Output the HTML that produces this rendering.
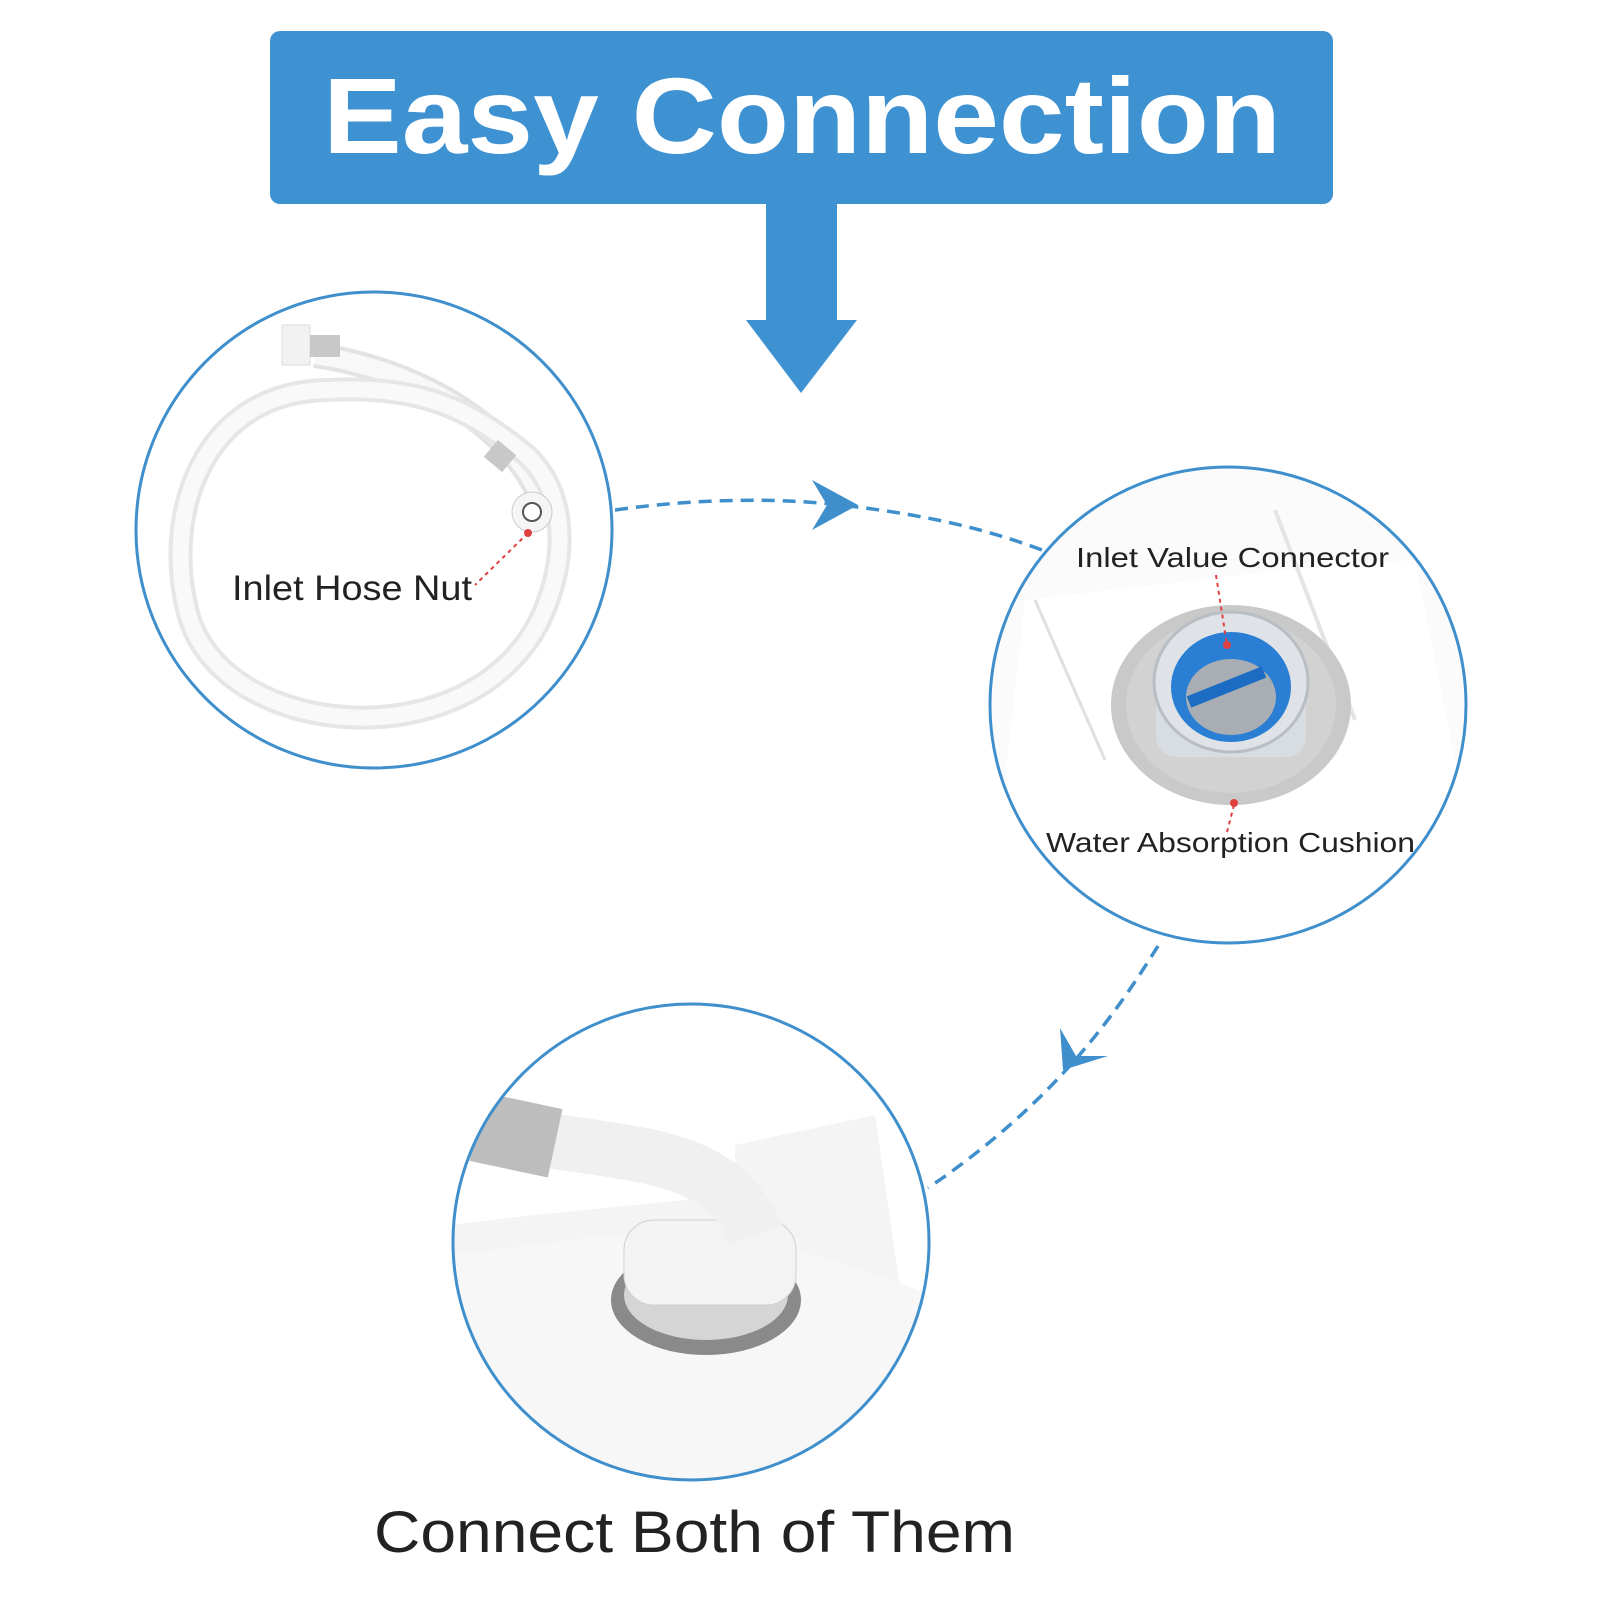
<!DOCTYPE html>
<html><head><meta charset="utf-8"><style>html,body{margin:0;padding:0;background:#fff}svg{display:block}</style></head>
<body>
<svg width="1600" height="1600" viewBox="0 0 1600 1600" xmlns="http://www.w3.org/2000/svg" font-family="Liberation Sans, sans-serif">
<defs>
<clipPath id="c2"><circle cx="1228" cy="705" r="238"/></clipPath>
<clipPath id="c3"><circle cx="691" cy="1242" r="238"/></clipPath>
</defs>
<rect x="270" y="31" width="1063" height="173" rx="10" fill="#3f92d2"/>
<text x="323" y="153" font-size="108" font-weight="bold" fill="#fff" textLength="958" lengthAdjust="spacingAndGlyphs">Easy Connection</text>
<rect x="766" y="200" width="71" height="122" fill="#3f92d2"/>
<polygon points="746,320 857,320 801,393" fill="#3f92d2"/>

<circle cx="374" cy="530" r="238" fill="#fff" stroke="#3f8fcc" stroke-width="3"/>
<path d="M315,355 C420,370 520,430 545,510" stroke="#e3e3e3" stroke-width="26" fill="none"/>
<path d="M315,355 C420,370 520,430 545,510" stroke="#f8f8f8" stroke-width="18" fill="none"/>
<path d="M330,390 C200,390 160,520 190,620 C230,740 470,760 540,620 C575,545 560,480 520,450 C470,410 420,385 330,390" stroke="#e6e6e6" stroke-width="24" fill="none"/>
<path d="M330,390 C200,390 160,520 190,620 C230,740 470,760 540,620 C575,545 560,480 520,450 C470,410 420,385 330,390" stroke="#f9f9f9" stroke-width="16" fill="none"/>
<rect x="282" y="325" width="28" height="40" fill="#f2f2f2" stroke="#ddd"/>
<rect x="310" y="335" width="30" height="22" fill="#c8c8c8"/>
<rect x="488" y="445" width="24" height="22" fill="#c8c8c8" transform="rotate(40 500 456)"/>
<circle cx="532" cy="512" r="20" fill="#f5f5f5" stroke="#ccc"/>
<circle cx="532" cy="512" r="9" fill="#fff" stroke="#555" stroke-width="2"/>
<circle cx="528" cy="533" r="4" fill="#e04040"/>
<line x1="528" y1="533" x2="475" y2="585" stroke="#e04040" stroke-width="2" stroke-dasharray="4,4"/>
<text x="232" y="600" font-size="35" fill="#222" textLength="240" lengthAdjust="spacingAndGlyphs">Inlet Hose Nut</text>

<path d="M615,510 C700,498 780,498 840,505 C930,515 990,530 1050,553" stroke="#3f8fcc" stroke-width="3.5" fill="none" stroke-dasharray="13,8"/>
<polygon points="812,480 858,505 812,530 827,505" fill="#3f8fcc"/>

<g clip-path="url(#c2)">
<rect x="980" y="460" width="500" height="500" fill="#fbfbfb"/>
<polygon points="1025,600 1285,570 1415,560 1495,960 985,960" fill="#fff"/>
<path d="M1035,600 L1105,760" stroke="#e0e0e0" stroke-width="3"/>
<path d="M1275,510 L1355,720" stroke="#e4e4e4" stroke-width="4"/>
<ellipse cx="1231" cy="705" rx="120" ry="100" fill="#c9c9c9"/>
<ellipse cx="1231" cy="705" rx="105" ry="88" fill="#d2d2d2"/>
<rect x="1156" y="677" width="150" height="80" rx="20" fill="#d8dde2"/>
<ellipse cx="1231" cy="682" rx="77" ry="70" fill="#dfe3e7" stroke="#b8bec4" stroke-width="3"/>
<ellipse cx="1231" cy="687" rx="60" ry="55" fill="#2a7fd4"/>
<ellipse cx="1231" cy="697" rx="45" ry="38" fill="#a9aeb4"/>
<path d="M1189,702 L1264,672" stroke="#1c6cc4" stroke-width="12"/>
</g>
<circle cx="1228" cy="705" r="238" fill="none" stroke="#3f8fcc" stroke-width="3"/>
<line x1="1216" y1="575" x2="1227" y2="645" stroke="#e04040" stroke-width="2" stroke-dasharray="4,4"/>
<circle cx="1227" cy="645" r="4" fill="#e04040"/>
<line x1="1234" y1="805" x2="1227" y2="832" stroke="#e04040" stroke-width="2" stroke-dasharray="4,4"/>
<circle cx="1234" cy="803" r="4" fill="#e04040"/>
<text x="1076" y="567" font-size="28" fill="#222" textLength="313" lengthAdjust="spacingAndGlyphs">Inlet Value Connector</text>
<text x="1046" y="852" font-size="28" fill="#222" textLength="369" lengthAdjust="spacingAndGlyphs">Water Absorption Cushion</text>

<path d="M1158,946 C1118,1010 1058,1100 928,1188" stroke="#3f8fcc" stroke-width="3.5" fill="none" stroke-dasharray="13,8"/>
<polygon points="1060,1028 1063,1070 1108,1056 1076,1056" fill="#3f8fcc"/>

<g clip-path="url(#c3)">
<rect x="450" y="1000" width="480" height="490" fill="#fff"/>
<polygon points="450,1225 535,1215 735,1195 735,1145 875,1115 930,1495 450,1495" fill="#f4f4f4"/>
<polygon points="450,1255 615,1235 815,1255 935,1295 935,1495 450,1495" fill="#f7f7f7"/>
<ellipse cx="706" cy="1300" rx="95" ry="55" fill="#8a8a8a"/>
<ellipse cx="706" cy="1295" rx="82" ry="45" fill="#d5d5d5"/>
<rect x="624" y="1220" width="172" height="85" rx="30" fill="#f3f3f3" stroke="#d0d0d0"/>
<path d="M546,1140 C636,1155 726,1155 756,1235" stroke="#f0f0f0" stroke-width="55" fill="none"/>
<rect x="476" y="1100" width="80" height="70" fill="#bdbdbd" transform="rotate(12 516 1135)"/>
</g>
<circle cx="691" cy="1242" r="238" fill="none" stroke="#3f8fcc" stroke-width="3"/>
<text x="374" y="1552" font-size="58" fill="#222" textLength="641" lengthAdjust="spacingAndGlyphs">Connect Both of Them</text>
</svg>
</body></html>
